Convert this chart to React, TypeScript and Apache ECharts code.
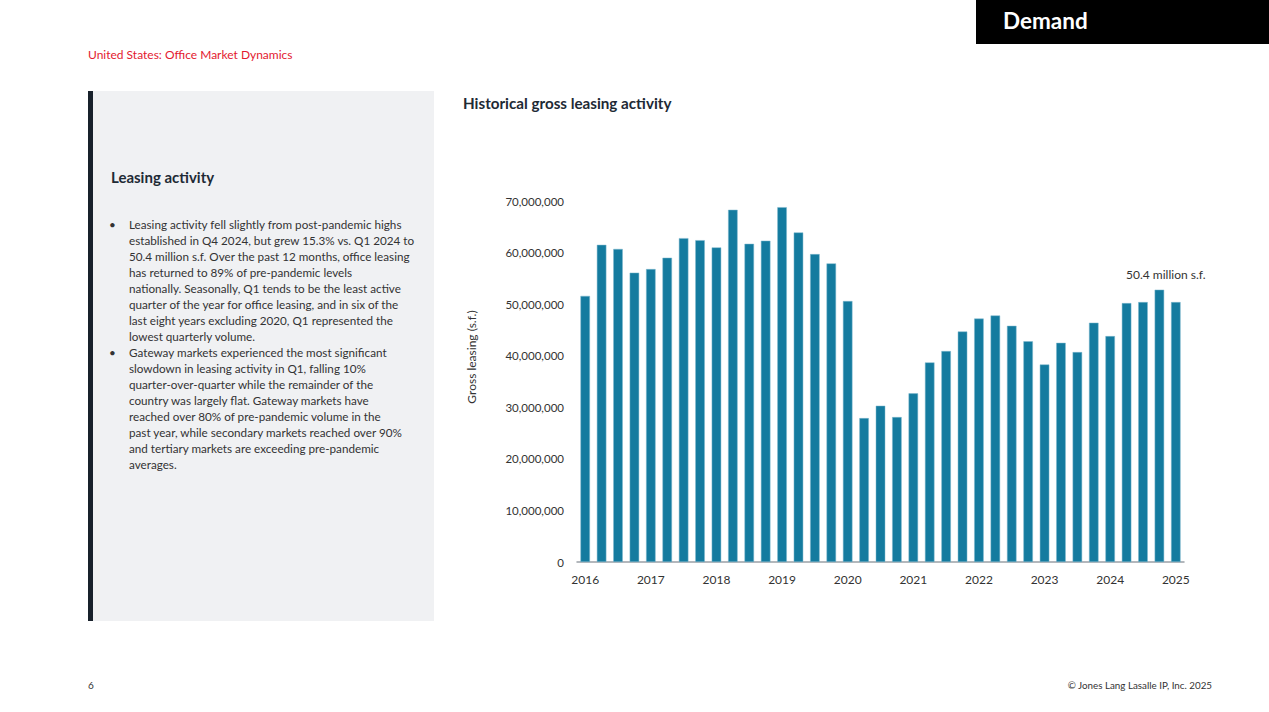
import React, { useEffect, useRef } from "react";
import * as echarts from "echarts";

const years = ["2016", "2017", "2018", "2019", "2020", "2021", "2022", "2023", "2024", "2025"];
const quarters = ["Q1", "Q2", "Q3", "Q4"];
const categories: string[] = [];
years.forEach((y) => quarters.forEach((q) => categories.push(y + " " + q)));
categories.length = 37; // through 2025 Q1

const grossLeasing = [
  51.6, 61.5, 60.7, 56.1, 56.8, 59.0, 62.8, 62.4, 61.0, 68.3, 61.7, 62.3,
  68.8, 63.9, 59.7, 57.9, 50.6, 27.9, 30.3, 28.1, 32.7, 38.7, 40.9, 44.7,
  47.2, 47.8, 45.8, 42.8, 38.3, 42.5, 40.7, 46.4, 43.8, 50.2, 50.4, 52.8, 50.4,
].map((v) => Math.round(v * 1000000));

const yTicks = [0, 10000000, 20000000, 30000000, 40000000, 50000000, 60000000, 70000000];

const bullets: string[][] = [
  [
    "Leasing activity fell slightly from post-pandemic highs",
    "established in Q4 2024, but grew 15.3% vs. Q1 2024 to",
    "50.4 million s.f. Over the past 12 months, office leasing",
    "has returned to 89% of pre-pandemic levels",
    "nationally. Seasonally, Q1 tends to be the least active",
    "quarter of the year for office leasing, and in six of the",
    "last eight years excluding 2020, Q1 represented the",
    "lowest quarterly volume.",
  ],
  [
    "Gateway markets experienced the most significant",
    "slowdown in leasing activity in Q1, falling 10%",
    "quarter-over-quarter while the remainder of the",
    "country was largely flat. Gateway markets have",
    "reached over 80% of pre-pandemic volume in the",
    "past year, while secondary markets reached over 90%",
    "and tertiary markets are exceeding pre-pandemic",
    "averages.",
  ],
];

const FONT = "Lato, 'Noto Sans', sans-serif";

export default function App() {
  const ref = useRef<HTMLDivElement>(null);

  useEffect(() => {
    document.body.style.margin = "0";
    const chart = echarts.init(ref.current!, null, { renderer: "svg" });
    const last = grossLeasing.length - 1;
    chart.setOption({
      animation: false,
      backgroundColor: "transparent",
      textStyle: { fontFamily: FONT },
      grid: { left: 577, right: 85, top: 201, bottom: 150, containLabel: false },
      xAxis: {
        type: "category",
        data: categories,
        boundaryGap: true,
        axisLine: { lineStyle: { color: "#9aa0a6", width: 1.5 } },
        axisTick: { show: false },
        axisLabel: {
          interval: 3,
          margin: 11,
          color: "#333",
          fontSize: 12,
          fontFamily: FONT,
          formatter: (v: string) => v.split(" ")[0],
        },
      },
      yAxis: {
        type: "value",
        min: 0,
        max: 70000000,
        interval: 10000000,
        splitLine: { show: false },
        axisLine: { show: false },
        axisTick: { show: false },
        axisLabel: {
          margin: 13,
          color: "#333",
          fontSize: 11.5,
          fontFamily: FONT,
          formatter: (v: number) => (yTicks.includes(v) ? v.toLocaleString("en-US") : ""),
        },
      },
      series: [
        {
          type: "bar",
          barWidth: 9.5,
          data: grossLeasing.map((v, i) =>
            i === last
              ? {
                  value: v,
                  label: {
                    show: true,
                    position: "top",
                    offset: [-10, -17],
                    formatter: "50.4 million s.f.",
                    color: "#333",
                    fontSize: 12,
                    fontFamily: FONT,
                  },
                }
              : v
          ),
          itemStyle: { color: "#147B9F", borderColor: "#7fb9cf", borderWidth: 0.5 },
        },
      ],
      graphic: [
        {
          type: "text",
          x: 471,
          y: 357,
          rotation: Math.PI / 2,
          style: {
            text: "Gross leasing (s.f.)",
            fill: "#333",
            fontSize: 12,
            fontFamily: FONT,
            align: "center",
            verticalAlign: "middle",
          },
        },
      ],
    });
    return () => chart.dispose();
  }, []);

  return (
    <div style={{ position: "fixed", left: 0, top: 0, width: 1269, height: 712, background: "#fff", fontFamily: FONT, color: "#333", overflow: "hidden" }}>
      <div style={{ position: "absolute", left: 976, top: 0, width: 293, height: 44, background: "#000" }}>
        <div style={{ position: "absolute", left: 27, top: 6, color: "#fff", fontWeight: 700, fontSize: 22.5, lineHeight: "30px" }}>Demand</div>
      </div>
      <div style={{ position: "absolute", left: 88, top: 47, fontSize: 12, color: "#e3192f", lineHeight: "16px" }}>
        United States: Office Market Dynamics
      </div>
      <div style={{ position: "absolute", left: 88, top: 91, width: 346, height: 530, background: "#f0f1f3" }}>
        <div style={{ position: "absolute", left: 0, top: 0, width: 5, height: 530, background: "#18212b" }} />
        <div style={{ position: "absolute", left: 23, top: 76, fontSize: 15, fontWeight: 700, color: "#1e2a35", lineHeight: "20px" }}>Leasing activity</div>
        <div style={{ position: "absolute", left: 23, top: 125, fontSize: 11.7, lineHeight: "16px", color: "#333" }}>
          {bullets.map((b, bi) => (
            <div key={bi} style={{ position: "relative", paddingLeft: 18 }}>
              <span style={{ position: "absolute", left: -2, top: 0 }}>•</span>
              {b.map((l, li) => (
                <div key={li} style={{ whiteSpace: "nowrap" }}>{l}</div>
              ))}
            </div>
          ))}
        </div>
      </div>
      <div style={{ position: "absolute", left: 463, top: 93, fontSize: 15.2, fontWeight: 700, color: "#1e2a35", lineHeight: "20px" }}>
        Historical gross leasing activity
      </div>
      <div style={{ position: "absolute", left: 88, top: 679, fontSize: 10, lineHeight: "12px", color: "#333" }}>6</div>
      <div style={{ position: "absolute", right: 57, top: 679, fontSize: 9.8, lineHeight: "12px", color: "#333" }}>© Jones Lang Lasalle IP, Inc. 2025</div>
      <div ref={ref} style={{ position: "absolute", left: 0, top: 0, width: 1269, height: 712 }} />
    </div>
  );
}
